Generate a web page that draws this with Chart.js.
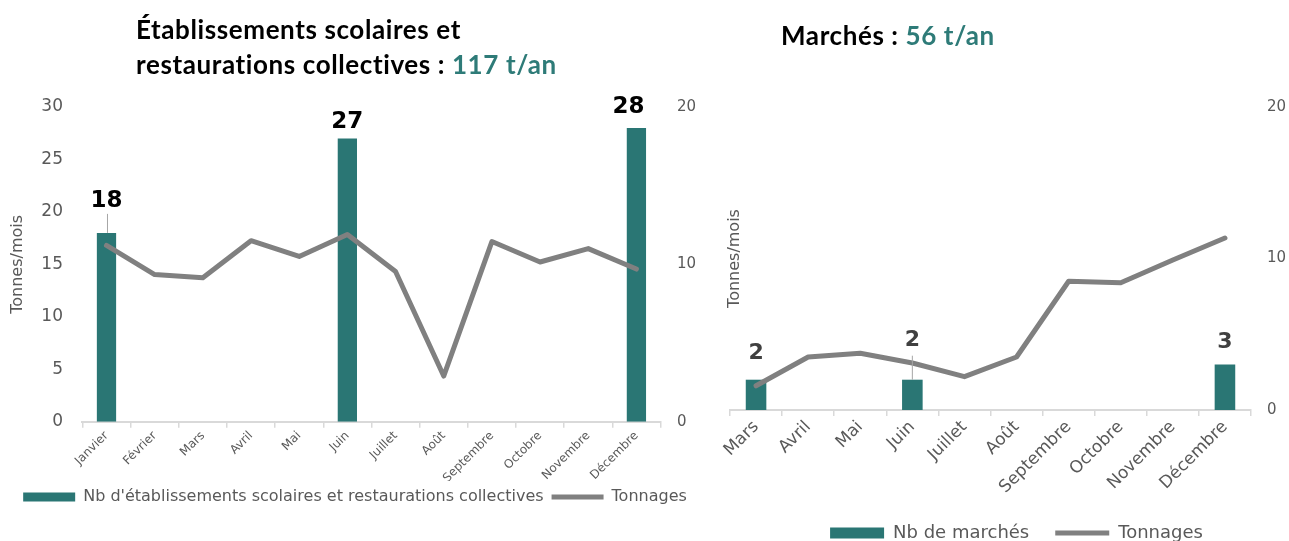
<!DOCTYPE html>
<html lang="fr">
<head>
<meta charset="utf-8">
<script src="https://cdn.jsdelivr.net/npm/chart.js@4.4.1/dist/chart.umd.min.js"></script>
<style>
  html, body { margin: 0; padding: 0; background: #ffffff; width: 1289px; height: 541px; overflow: hidden; }
  .wrap { position: absolute; top: 0; }
  .title { position: absolute; font-family: Lato, "Open Sans", sans-serif; font-weight: 700; font-size: 26px; letter-spacing: 0.6px; line-height: 35px; color: #000; white-space: nowrap; }
  .title .hl { color: #2E7B78; }
</style>
</head>
<body>
<div class="wrap" style="left:0px; width:710px; height:515px;"><canvas id="left" width="710" height="515"></canvas></div>
<div class="wrap" style="left:700px; width:633px; height:552px;"><canvas id="right" width="633" height="552"></canvas></div>
<div class="title" style="left:136px; top:12px;">Établissements scolaires et<br>restaurations collectives : <span class="hl">117 t/an</span></div>
<div class="title" style="left:781px; top:18px;">Marchés : <span class="hl">56 t/an</span></div>
<script>
// ---- Data: left chart (établissements scolaires et restaurations collectives)
const leftMonths = ['Janvier','Février','Mars','Avril','Mai','Juin','Juillet','Août','Septembre','Octobre','Novembre','Décembre'];
const leftEtablissements = [18, null, null, null, null, 27, null, null, null, null, null, 28];
const leftTonnages = [11.2, 9.35, 9.15, 11.5, 10.5, 11.9, 9.55, 2.9, 11.45, 10.15, 11.0, 9.7];
const leftAxisTicks = [0, 5, 10, 15, 20, 25, 30];
const leftAxis2Ticks = [0, 10, 20];

// ---- Data: right chart (marchés)
const rightMonths = ['Mars','Avril','Mai','Juin','Juillet','Août','Septembre','Octobre','Novembre','Décembre'];
const rightMarches = [2, null, null, 2, null, null, null, null, null, 3];
const rightTonnages = [1.6, 3.5, 3.75, 3.1, 2.2, 3.5, 8.5, 8.4, 9.9, 11.35];
const rightAxis2Ticks = [0, 10, 20];

const TEAL = '#2A7674';
const GREY_LINE = '#808080';
const TXT = '#595959';
const AXIS = '#D9D9D9';
const FONT = '"DejaVu Sans", Verdana, sans-serif';

const barLabelPlugin = {
  id: 'barLabels',
  afterDatasetsDraw(chart, args, opts) {
    const meta = chart.getDatasetMeta(0);
    const ds = chart.data.datasets[0];
    const ctx = chart.ctx;
    ctx.save();
    ctx.font = opts.font;
    ctx.textAlign = 'center';
    ctx.textBaseline = 'middle';
    meta.data.forEach((bar, i) => {
      const v = ds.data[i];
      if (v === null || v === undefined) return;
      const place = (opts.placement && opts.placement[i]) || {};
      const dy = place.dy !== undefined ? place.dy : opts.defaultDy;
      const dx = place.dx || 0;
      const lx = bar.x + dx, ly = bar.y - dy;
      if (place.leader) {
        ctx.strokeStyle = opts.leaderColor;
        ctx.lineWidth = 1;
        ctx.beginPath();
        ctx.moveTo(lx + (place.leaderDx || 0), ly + opts.leaderGap);
        ctx.lineTo(bar.x + (place.leaderDx || 0), bar.y);
        ctx.stroke();
      }
      ctx.fillStyle = opts.color;
      ctx.fillText(String(v), lx, ly);
    });
    ctx.restore();
  }
};

function legendLabels(chart) {
  const items = Chart.defaults.plugins.legend.labels.generateLabels(chart);
  items.forEach(it => {
    const ds = chart.data.datasets[it.datasetIndex];
    if (ds.type === 'line') {
      it.pointStyle = 'line';
      it.strokeStyle = GREY_LINE;
      it.lineWidth = 5;
    } else {
      it.pointStyle = 'rect';
      it.fillStyle = TEAL;
      it.lineWidth = 0;
    }
  });
  return items.sort((a, b) => a.datasetIndex - b.datasetIndex);
}

function ticksFrom(list) {
  return function(scale) {
    scale.ticks = list.map(v => ({ value: v }));
  };
}

const noGrid = { display: false, drawTicks: false, tickLength: 0 };

// ---------------- Left chart
new Chart(document.getElementById('left'), {
  type: 'bar',
  data: {
    labels: leftMonths,
    datasets: [
      {
        type: 'bar',
        label: "Nb d'établissements scolaires et restaurations collectives",
        data: leftEtablissements,
        backgroundColor: TEAL,
        borderWidth: 0,
        barPercentage: 1,
        categoryPercentage: 0.4,
        yAxisID: 'y',
        order: 1
      },
      {
        type: 'line',
        label: 'Tonnages',
        data: leftTonnages,
        borderColor: GREY_LINE,
        backgroundColor: GREY_LINE,
        borderWidth: 5,
        borderCapStyle: 'round',
        borderJoinStyle: 'round',
        pointRadius: 0,
        tension: 0,
        yAxisID: 'y1',
        order: 0
      }
    ]
  },
  options: {
    responsive: false,
    animation: false,
    devicePixelRatio: 1,
    layout: { padding: { left: 0, right: 0, top: 107, bottom: 0 } },
    scales: {
      x: {
        grid: { display: true, drawOnChartArea: false, drawTicks: true, tickLength: 6, color: AXIS, lineWidth: 1.5, offset: true },
        border: { display: true, color: AXIS, width: 2 },
        ticks: { autoSkip: false, maxRotation: 45, minRotation: 45, padding: 1, color: TXT, font: { family: FONT, size: 12 } },
        afterFit: s => { s.height = 59.3; }
      },
      y: {
        position: 'left',
        min: 0, max: 30,
        afterBuildTicks: ticksFrom(leftAxisTicks),
        grid: noGrid,
        border: { display: false },
        ticks: { padding: 19.4, color: TXT, font: { family: FONT, size: 17 } },
        title: { display: true, text: 'Tonnes/mois', color: TXT, font: { family: FONT, size: 16 }, padding: { top: 8.4, bottom: 0 } },
        afterFit: s => { s.width = 82.4; }
      },
      y1: {
        position: 'right',
        min: 0, max: 20,
        afterBuildTicks: ticksFrom(leftAxis2Ticks),
        grid: noGrid,
        border: { display: false },
        ticks: { padding: 16.5, color: TXT, font: { family: FONT, size: 15 } },
        afterFit: s => { s.width = 49.5; }
      }
    },
    plugins: {
      legend: {
        position: 'bottom',
        labels: {
          usePointStyle: true,
          pointStyleWidth: 52,
          boxHeight: 9,
          padding: 8,
          color: TXT,
          font: { family: FONT, size: 16 },
          generateLabels: legendLabels
        }
      },
      tooltip: { enabled: false },
      barLabels: {
        font: 'bold 23px ' + FONT,
        color: '#000000',
        defaultDy: 20,
        leaderGap: 13,
        leaderColor: '#A6A6A6',
        placement: { 0: { dy: 32, leader: true, leaderDx: 1 }, 5: { dy: 16 }, 11: { dy: 20.5, dx: -8 } }
      }
    }
  },
  plugins: [barLabelPlugin]
});

// ---------------- Right chart
new Chart(document.getElementById('right'), {
  type: 'bar',
  data: {
    labels: rightMonths,
    datasets: [
      {
        type: 'bar',
        label: 'Nb de marchés',
        data: rightMarches,
        backgroundColor: TEAL,
        borderWidth: 0,
        barPercentage: 1,
        categoryPercentage: 0.395,
        yAxisID: 'y',
        order: 1
      },
      {
        type: 'line',
        label: 'Tonnages',
        data: rightTonnages,
        borderColor: GREY_LINE,
        backgroundColor: GREY_LINE,
        borderWidth: 5,
        borderCapStyle: 'round',
        borderJoinStyle: 'round',
        pointRadius: 0,
        tension: 0,
        yAxisID: 'y1',
        order: 0
      }
    ]
  },
  options: {
    responsive: false,
    animation: false,
    devicePixelRatio: 1,
    layout: { padding: { left: 0, right: 0, top: 107, bottom: 0 } },
    scales: {
      x: {
        grid: { display: true, drawOnChartArea: false, drawTicks: true, tickLength: 6, color: AXIS, lineWidth: 1.5, offset: true },
        border: { display: true, color: AXIS, width: 2 },
        ticks: { autoSkip: false, maxRotation: 45, minRotation: 45, padding: 1, color: TXT, font: { family: FONT, size: 17 } },
        afterFit: s => { s.height = 88; }
      },
      y: {
        position: 'left',
        min: 0, max: 20,
        grid: noGrid,
        border: { display: false },
        ticks: { display: false },
        title: { display: true, text: 'Tonnes/mois', color: TXT, font: { family: FONT, size: 16 }, padding: { top: 25.4, bottom: 0 } },
        afterFit: s => { s.width = 30; }
      },
      y1: {
        position: 'right',
        min: 0, max: 20,
        afterBuildTicks: ticksFrom(rightAxis2Ticks),
        grid: noGrid,
        border: { display: false },
        ticks: { padding: 16, color: TXT, font: { family: FONT, size: 15 } },
        afterFit: s => { s.width = 82; }
      }
    },
    plugins: {
      legend: {
        position: 'bottom',
        labels: {
          usePointStyle: true,
          pointStyleWidth: 54,
          boxHeight: 11,
          padding: 26,
          color: TXT,
          font: { family: FONT, size: 18 },
          generateLabels: legendLabels
        }
      },
      tooltip: { enabled: false },
      barLabels: {
        font: 'bold 22px ' + FONT,
        color: '#404040',
        defaultDy: 23,
        leaderGap: 15,
        leaderColor: '#A6A6A6',
        placement: { 0: { dy: 26 }, 3: { dy: 39, leader: true }, 9: { dy: 22 } }
      }
    }
  },
  plugins: [barLabelPlugin]
});
</script>
</body>
</html>
